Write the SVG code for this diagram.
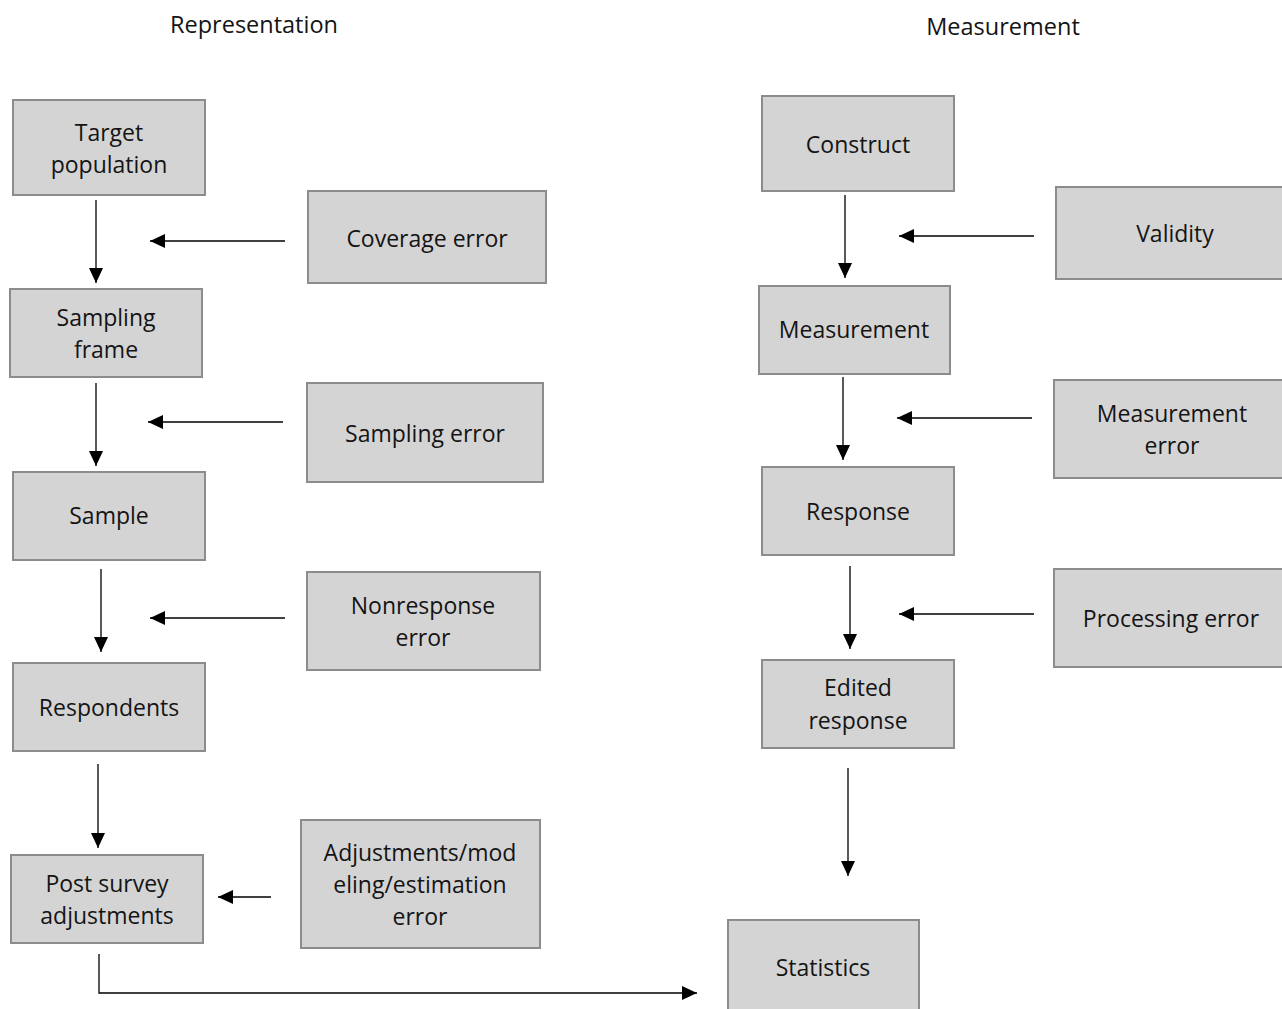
<svg xmlns="http://www.w3.org/2000/svg" width="1282" height="1009" viewBox="0 0 1282 1009">
<defs>
<marker id="ah" markerUnits="userSpaceOnUse" markerWidth="16" markerHeight="14" refX="15" refY="7" orient="auto">
<path d="M0,0 L15,7 L0,14 Z" fill="#000"/>
</marker>
<style>
.box{fill:#d4d4d4;stroke:#8c8c8c;stroke-width:2}
.t{font-family:"Open Sans","Liberation Sans",sans-serif;font-size:23px;fill:#141414;text-anchor:middle}
.h{font-size:23.5px}
.c{fill:none;stroke:#000;stroke-width:1.3}
</style>
</defs>
<rect width="1282" height="1009" fill="#fff"/>
<text class="t h" x="254" y="33">Representation</text>
<text class="t h" x="1003" y="35">Measurement</text>
<g id="target"><rect class="box" x="13" y="100" width="192" height="95"/><text class="t" x="109" y="141">Target</text><text class="t" x="109" y="173">population</text></g>
<g id="frame"><rect class="box" x="10" y="289" width="192" height="88"/><text class="t" x="106" y="326">Sampling</text><text class="t" x="106" y="358">frame</text></g>
<g id="sample"><rect class="box" x="13" y="472" width="192" height="88"/><text class="t" x="109" y="524">Sample</text></g>
<g id="respondents"><rect class="box" x="13" y="663" width="192" height="88"/><text class="t" x="109" y="716">Respondents</text></g>
<g id="post"><rect class="box" x="11" y="855" width="192" height="88"/><text class="t" x="107" y="892">Post survey</text><text class="t" x="107" y="924">adjustments</text></g>
<g id="coverage"><rect class="box" x="308" y="191" width="238" height="92"/><text class="t" x="427" y="247">Coverage error</text></g>
<g id="samplingerr"><rect class="box" x="307" y="383" width="236" height="99"/><text class="t" x="425" y="442">Sampling error</text></g>
<g id="nonresponse"><rect class="box" x="307" y="572" width="233" height="98"/><text class="t" x="423" y="614">Nonresponse</text><text class="t" x="423" y="646">error</text></g>
<g id="adjust"><rect class="box" x="301" y="820" width="239" height="128"/><text class="t" x="420" y="861">Adjustments/mod</text><text class="t" x="420" y="893">eling/estimation</text><text class="t" x="420" y="925">error</text></g>
<g id="construct"><rect class="box" x="762" y="96" width="192" height="95"/><text class="t" x="858" y="153">Construct</text></g>
<g id="validity"><rect class="box" x="1056" y="187" width="230" height="92"/><text class="t" x="1175" y="242">Validity</text></g>
<g id="measurement"><rect class="box" x="759" y="286" width="191" height="88"/><text class="t" x="854" y="338">Measurement</text></g>
<g id="measerr"><rect class="box" x="1054" y="380" width="232" height="98"/><text class="t" x="1172" y="422">Measurement</text><text class="t" x="1172" y="454">error</text></g>
<g id="response"><rect class="box" x="762" y="467" width="192" height="88"/><text class="t" x="858" y="520">Response</text></g>
<g id="procerr"><rect class="box" x="1054" y="569" width="232" height="98"/><text class="t" x="1171" y="627">Processing error</text></g>
<g id="edited"><rect class="box" x="762" y="660" width="192" height="88"/><text class="t" x="858" y="696">Edited</text><text class="t" x="858" y="729">response</text></g>
<g id="statistics"><rect class="box" x="728" y="920" width="191" height="95"/><text class="t" x="823" y="976">Statistics</text></g>
<g id="connectors">
<line class="c" x1="96" y1="200" x2="96" y2="283" marker-end="url(#ah)"/>
<line class="c" x1="285" y1="241" x2="150" y2="241" marker-end="url(#ah)"/>
<line class="c" x1="96" y1="383" x2="96" y2="466" marker-end="url(#ah)"/>
<line class="c" x1="283" y1="422" x2="148" y2="422" marker-end="url(#ah)"/>
<line class="c" x1="101" y1="569" x2="101" y2="652" marker-end="url(#ah)"/>
<line class="c" x1="285" y1="618" x2="150" y2="618" marker-end="url(#ah)"/>
<line class="c" x1="98" y1="764" x2="98" y2="848" marker-end="url(#ah)"/>
<line class="c" x1="271" y1="897" x2="218" y2="897" marker-end="url(#ah)"/>
<polyline class="c" points="99,954 99,993 697,993" marker-end="url(#ah)"/>
<line class="c" x1="845" y1="195" x2="845" y2="278" marker-end="url(#ah)"/>
<line class="c" x1="1034" y1="236" x2="899" y2="236" marker-end="url(#ah)"/>
<line class="c" x1="843" y1="377" x2="843" y2="460" marker-end="url(#ah)"/>
<line class="c" x1="1032" y1="418" x2="897" y2="418" marker-end="url(#ah)"/>
<line class="c" x1="850" y1="566" x2="850" y2="649" marker-end="url(#ah)"/>
<line class="c" x1="1034" y1="614" x2="899" y2="614" marker-end="url(#ah)"/>
<line class="c" x1="848" y1="768" x2="848" y2="876" marker-end="url(#ah)"/>
</g>
</svg>
